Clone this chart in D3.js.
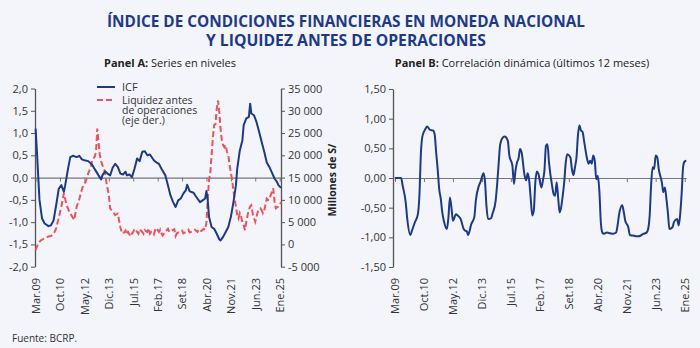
<!DOCTYPE html>
<html>
<head>
<meta charset="utf-8">
<script src="https://cdn.jsdelivr.net/npm/d3@7"></script>
<style>
  html, body { margin: 0; padding: 0; background: #f4f5fa; }
  svg { display: block; }
  text { font-family: "Open Sans", "Noto Sans", sans-serif; }
</style>
</head>
<body>
<svg id="chart" width="700" height="348"></svg>
<script>
// ---- Data ----
const tickDates = ["2009-03","2010-10","2012-05","2013-12","2015-07","2017-02","2018-09","2020-04","2021-11","2023-06","2025-01"];
const tickLabels = ["Mar.09","Oct.10","May.12","Dic.13","Jul.15","Feb.17","Set.18","Abr.20","Nov.21","Jun.23","Ene.25"];

const leftTicks = [-2, -1.5, -1, -0.5, 0, 0.5, 1, 1.5, 2];
const rightTicks = [-5000, 0, 5000, 10000, 15000, 20000, 25000, 30000, 35000];
const corrTicks = [-1.5, -1, -0.5, 0, 0.5, 1, 1.5];

// Índice de condiciones financieras (eje izquierdo)
const icfDates = ["2009-03","2009-04","2009-05","2009-06","2009-08","2009-10","2010-01","2010-03","2010-05","2010-07","2010-09","2010-11","2011-01","2011-02","2011-04","2011-06","2011-08","2011-11","2012-01","2012-03","2012-05","2012-08","2012-11","2013-01","2013-04","2013-06","2013-07","2013-09","2013-11","2014-01","2014-03","2014-05","2014-07","2014-09","2014-11","2015-01","2015-02","2015-04","2015-06","2015-08","2015-10","2015-12","2016-02","2016-04","2016-06","2016-08","2016-11","2017-01","2017-03","2017-05","2017-08","2017-10","2017-12","2018-02","2018-04","2018-06","2018-08","2018-10","2018-12","2019-01","2019-03","2019-06","2019-08","2019-11","2020-01","2020-03","2020-04","2020-05","2020-06","2020-08","2020-10","2020-12","2021-02","2021-03","2021-05","2021-07","2021-09","2021-11","2022-01","2022-03","2022-04","2022-06","2022-08","2022-09","2022-11","2023-01","2023-02","2023-03","2023-05","2023-07","2023-09","2023-11","2024-01","2024-03","2024-05","2024-07","2024-09","2024-11","2024-12","2025-02"];
const icfValues = [1.10,0.60,0.05,-0.50,-0.92,-1.03,-1.09,-1.07,-0.96,-0.62,-0.25,-0.17,-0.32,-0.17,0.16,0.46,0.49,0.46,0.49,0.41,0.39,0.37,0.29,0.19,0.05,-0.04,0.05,0.14,0.09,0.05,0.22,0.31,0.24,0.09,0.07,0.13,0.05,0.07,0.01,0.20,0.43,0.37,0.58,0.59,0.50,0.52,0.39,0.34,0.31,0.20,0.05,-0.17,-0.40,-0.55,-0.66,-0.51,-0.47,-0.36,-0.28,-0.16,-0.31,-0.34,-0.43,-0.55,-0.51,-0.47,-0.30,-0.50,-0.88,-1.11,-1.15,-1.26,-1.39,-1.41,-1.33,-1.22,-1.11,-0.88,-0.55,-0.17,0.20,0.61,0.84,1.18,1.33,1.36,1.66,1.44,1.40,1.25,1.03,0.80,0.58,0.34,0.24,0.11,-0.02,-0.10,-0.17,-0.23];

// Liquidez antes de operaciones, millones de S/ (eje derecho)
const liqDates = ["2009-03","2009-05","2009-07","2009-10","2010-01","2010-03","2010-05","2010-07","2010-09","2010-11","2011-01","2011-03","2011-05","2011-07","2011-09","2011-11","2012-01","2012-04","2012-06","2012-08","2012-10","2012-11","2013-01","2013-02","2013-03","2013-04","2013-05","2013-06","2013-09","2013-10","2013-12","2014-01","2014-05","2014-07","2014-09","2014-10","2014-11","2015-01","2015-02","2015-03","2015-05","2015-06","2015-07","2015-08","2015-10","2015-11","2015-12","2016-02","2016-03","2016-04","2016-06","2016-07","2016-08","2016-09","2016-11","2016-12","2017-01","2017-03","2017-04","2017-05","2017-06","2017-08","2017-10","2017-11","2018-01","2018-03","2018-04","2018-05","2018-07","2018-09","2018-10","2018-12","2019-02","2019-03","2019-05","2019-07","2019-09","2019-10","2019-12","2020-02","2020-03","2020-04","2020-05","2020-06","2020-07","2020-08","2020-09","2020-10","2020-11","2020-12","2021-01","2021-02","2021-03","2021-04","2021-05","2021-06","2021-07","2021-08","2021-09","2021-10","2021-11","2021-12","2022-01","2022-02","2022-03","2022-04","2022-05","2022-06","2022-07","2022-08","2022-09","2022-10","2022-11","2022-12","2023-01","2023-02","2023-03","2023-04","2023-05","2023-06","2023-07","2023-08","2023-09","2023-10","2023-11","2023-12","2024-01","2024-02","2024-03","2024-04","2024-05","2024-06","2024-07","2024-08","2024-09","2024-10","2024-11","2024-12","2025-01","2025-02"];
const liqValues = [-1300,200,900,1400,1800,1900,2300,3600,6000,8500,11500,9000,7500,6500,5500,8500,10200,13300,14100,16000,17400,19000,19700,20800,26000,23000,20100,18600,16300,14100,11100,8100,6600,6900,3800,2800,2400,3100,2200,2800,1800,2400,2800,3500,2800,2400,3400,2800,2400,3200,2800,3600,2400,2800,2200,3200,3700,2800,3300,2500,2000,2900,3500,2800,3100,3400,1900,2500,2800,3100,2500,2800,3300,2700,2900,3300,2800,3400,3000,3500,3300,5000,10000,14500,16000,20000,24000,26800,27000,30500,32300,29500,26000,23500,22300,21800,22300,20800,20000,18000,16000,14500,12000,10000,8500,6500,5800,7000,6200,5000,4300,3200,5100,6500,7800,8500,8800,7000,6000,5100,6200,7300,7900,8100,7700,7000,7600,9000,10300,10000,10000,11000,11800,12600,9600,8100,8300,8500,8800,9500];

// Correlación dinámica, ventana móvil de 12 meses
const corrDates = ["2009-03","2009-07","2009-08","2009-10","2009-11","2010-01","2010-02","2010-04","2010-06","2010-07","2010-08","2010-09","2010-11","2010-12","2011-02","2011-04","2011-05","2011-06","2011-07","2011-08","2011-09","2011-10","2011-11","2012-01","2012-02","2012-03","2012-04","2012-05","2012-07","2012-08","2012-10","2012-12","2013-01","2013-02","2013-03","2013-05","2013-07","2013-08","2013-10","2013-11","2014-01","2014-02","2014-03","2014-04","2014-06","2014-07","2014-09","2014-10","2014-11","2014-12","2015-02","2015-03","2015-05","2015-06","2015-08","2015-09","2015-10","2015-11","2015-12","2016-01","2016-02","2016-04","2016-05","2016-06","2016-07","2016-08","2016-09","2016-10","2016-11","2016-12","2017-01","2017-03","2017-04","2017-05","2017-06","2017-07","2017-08","2017-10","2017-11","2017-12","2018-01","2018-02","2018-03","2018-04","2018-05","2018-06","2018-07","2018-08","2018-10","2018-11","2018-12","2019-01","2019-02","2019-03","2019-04","2019-05","2019-06","2019-07","2019-09","2019-10","2019-11","2019-12","2020-01","2020-02","2020-03","2020-04","2020-05","2020-06","2020-07","2020-08","2020-10","2020-12","2021-02","2021-04","2021-05","2021-06","2021-08","2021-09","2021-10","2021-12","2022-01","2022-03","2022-05","2022-07","2022-10","2022-12","2023-01","2023-02","2023-03","2023-04","2023-05","2023-06","2023-07","2023-08","2023-10","2023-11","2023-12","2024-01","2024-02","2024-03","2024-05","2024-06","2024-08","2024-09","2024-10","2024-11","2024-12","2025-01","2025-02"];
const corrValues = [0,0,-0.13,-0.41,-0.69,-0.96,-0.89,-0.75,-0.61,-0.30,0.43,0.71,0.83,0.87,0.81,0.80,0.74,0.43,0.15,-0.19,-0.35,-0.58,-0.72,-0.86,-0.66,-0.33,-0.50,-0.72,-0.61,-0.63,-0.69,-0.86,-0.89,-0.90,-0.96,-0.78,-0.66,-0.38,-0.13,-0.07,0.08,-0.07,-0.47,-0.69,-0.68,-0.60,-0.38,-0.10,0.26,0.57,0.69,0.70,0.63,0.38,0.21,-0.10,0.12,0.26,0.33,0.49,0.43,0.04,-0.04,0.08,-0.04,-0.35,-0.63,-0.55,-0.07,0.11,0.07,-0.16,-0.04,0.12,0.54,0.57,0.26,-0.13,-0.27,-0.30,-0.07,-0.35,-0.58,-0.49,-0.30,-0.07,0.26,0.40,0.35,0.15,0.05,0.18,0.35,0.71,0.89,0.80,0.78,0.63,0.32,0.24,0.29,0.24,0.38,0.29,-0.02,0.04,-0.20,-0.75,-0.92,-0.94,-0.92,-0.93,-0.94,-0.92,-0.80,-0.61,-0.46,-0.57,-0.72,-0.83,-0.96,-0.97,-0.98,-0.98,-0.94,-0.92,-0.86,-0.63,-0.13,0.18,0.15,0.38,0.35,0.15,-0.07,-0.24,-0.16,-0.35,-0.60,-0.86,-0.83,-0.74,-0.69,-0.80,-0.62,-0.25,0.20,0.28,0.29];

// ---- Setup ----
const parse = d3.timeParse("%Y-%m");
const locale = d3.formatLocale({decimal: ",", thousands: " ", grouping: [3], currency: ["S/", ""], minus: "-"});
const fmt1 = locale.format(".1f");
const fmt2 = locale.format(".2f");
const fmtK = locale.format(",.0f");

const navy = "#1c3a8c";
const red = "#f0525a";
const axisCol = "#555";
const textCol = "#333";

const svg = d3.select("#chart");
const domainX = [parse("2009-03"), parse("2025-02")];

// Title (two lines, condensed to fit)
const title = svg.append("g").attr("fill", navy).attr("font-weight", "bold")
  .attr("text-anchor", "middle").attr("font-size", 16.5);
title.append("text").attr("x", 346).attr("y", 27)
  .attr("textLength", 478).attr("lengthAdjust", "spacingAndGlyphs")
  .text("ÍNDICE DE CONDICIONES FINANCIERAS EN MONEDA NACIONAL");
title.append("text").attr("x", 346).attr("y", 46)
  .attr("textLength", 280).attr("lengthAdjust", "spacingAndGlyphs")
  .text("Y LIQUIDEZ ANTES DE OPERACIONES");

function panelTitle(x, bold, rest) {
  const t = svg.append("text").attr("x", x).attr("y", 67).attr("font-size", 11).attr("fill", "#222").attr("text-anchor", "middle");
  t.append("tspan").attr("font-weight", "bold").text(bold);
  t.append("tspan").text(rest);
}
panelTitle(170, "Panel A:", " Series en niveles");
panelTitle(522, "Panel B:", " Correlación dinámica (últimos 12 meses)");

function styleAxis(g) {
  g.selectAll(".domain").attr("stroke", axisCol).attr("stroke-width", 1.3);
  g.selectAll(".tick line").attr("stroke", axisCol).attr("stroke-width", 1);
  g.selectAll(".tick text").attr("fill", textCol).attr("font-size", 11)
    .attr("font-family", "'Open Sans', 'Noto Sans', sans-serif");
}

function timeAxes(x, y0, yBottom) {
  // zero line with date ticks
  const z = svg.append("g").attr("transform", `translate(0,${y0})`)
    .call(d3.axisBottom(x).tickValues(tickDates.map(parse)).tickSize(4).tickSizeOuter(0).tickFormat(""));
  z.selectAll(".domain").attr("stroke", "#777").attr("stroke-width", 1.2);
  z.selectAll(".tick line").attr("stroke", "#777");
  // rotated date labels below the plot
  const l = svg.append("g").attr("transform", `translate(0,${yBottom})`)
    .call(d3.axisBottom(x).tickValues(tickDates.map(parse)).tickSize(0).tickFormat((d, i) => tickLabels[i]));
  l.select(".domain").remove();
  l.selectAll(".tick text")
    .attr("transform", "rotate(-90)").attr("x", 0).attr("y", 0).attr("dy", "0.35em")
    .attr("text-anchor", "end").attr("fill", textCol).attr("font-size", 11)
    .attr("font-family", "'Open Sans', 'Noto Sans', sans-serif");
}

// ---- Panel A ----
const xA = d3.scaleTime().domain(domainX).range([35.6, 281]);
const yL = d3.scaleLinear().domain([-2, 2]).range([266.7, 88.5]);
const yR = d3.scaleLinear().domain([-5000, 35000]).range([266.7, 88.5]);

svg.append("g").attr("transform", "translate(35,0)")
  .call(d3.axisLeft(yL).tickValues(leftTicks).tickSize(4).tickSizeOuter(0).tickFormat(fmt1))
  .call(styleAxis);
svg.append("g").attr("transform", "translate(281,0)")
  .call(d3.axisRight(yR).tickValues(rightTicks).tickSize(4).tickSizeOuter(0).tickFormat(fmtK))
  .call(styleAxis);

timeAxes(xA, yL(0), 278);

const liq = liqDates.map((d, i) => ({d: parse(d), v: liqValues[i]}));
const icf = icfDates.map((d, i) => ({d: parse(d), v: icfValues[i]}));

svg.append("path").datum(liq)
  .attr("fill", "none").attr("stroke", red).attr("stroke-width", 2)
  .attr("stroke-dasharray", "6,3")
  .attr("d", d3.line().x(p => xA(p.d)).y(p => yR(p.v)));
svg.append("path").datum(icf)
  .attr("fill", "none").attr("stroke", navy).attr("stroke-width", 2)
  .attr("stroke-linejoin", "round")
  .attr("d", d3.line().x(p => xA(p.d)).y(p => yL(p.v)));

// Right axis title
svg.append("text").attr("transform", "translate(336,180) rotate(-90)")
  .attr("text-anchor", "middle").attr("font-size", 10.5).attr("font-weight", "bold").attr("fill", "#222")
  .text("Millones de S/");

// Legend
const lg = svg.append("g").attr("font-size", 10.5).attr("fill", textCol);
lg.append("line").attr("x1", 97).attr("x2", 115).attr("y1", 87).attr("y2", 87)
  .attr("stroke", navy).attr("stroke-width", 2);
lg.append("text").attr("x", 122).attr("y", 91).attr("font-size", 11).text("ICF");
lg.append("line").attr("x1", 97).attr("x2", 115).attr("y1", 100).attr("y2", 100)
  .attr("stroke", red).attr("stroke-width", 2).attr("stroke-dasharray", "6,3");
["Liquidez antes", "de operaciones", "(eje der.)"].forEach((s, i) =>
  lg.append("text").attr("x", 122).attr("y", 104 + i * 10.2).text(s));

// ---- Panel B ----
const xB = d3.scaleTime().domain(domainX).range([395, 686.3]);
const yB = d3.scaleLinear().domain([-1.5, 1.5]).range([267, 89]);

svg.append("g").attr("transform", "translate(393,0)")
  .call(d3.axisLeft(yB).tickValues(corrTicks).tickSize(4).tickSizeOuter(0).tickFormat(fmt2))
  .call(styleAxis);

const zB = svg.append("g").attr("transform", `translate(0,${yB(0)})`);
zB.append("line").attr("x1", 393).attr("x2", 395).attr("stroke", "#777").attr("stroke-width", 1.2);
timeAxes(xB, yB(0), 278);

const corr = corrDates.map((d, i) => ({d: parse(d), v: corrValues[i]}));
svg.append("path").datum(corr)
  .attr("fill", "none").attr("stroke", navy).attr("stroke-width", 2)
  .attr("stroke-linejoin", "round")
  .attr("d", d3.line().curve(d3.curveMonotoneX).x(p => xB(p.d)).y(p => yB(p.v)));

// Source
svg.append("text").attr("x", 12).attr("y", 342).attr("font-size", 10).attr("fill", textCol).text("Fuente: BCRP.");
</script>
</body>
</html>
